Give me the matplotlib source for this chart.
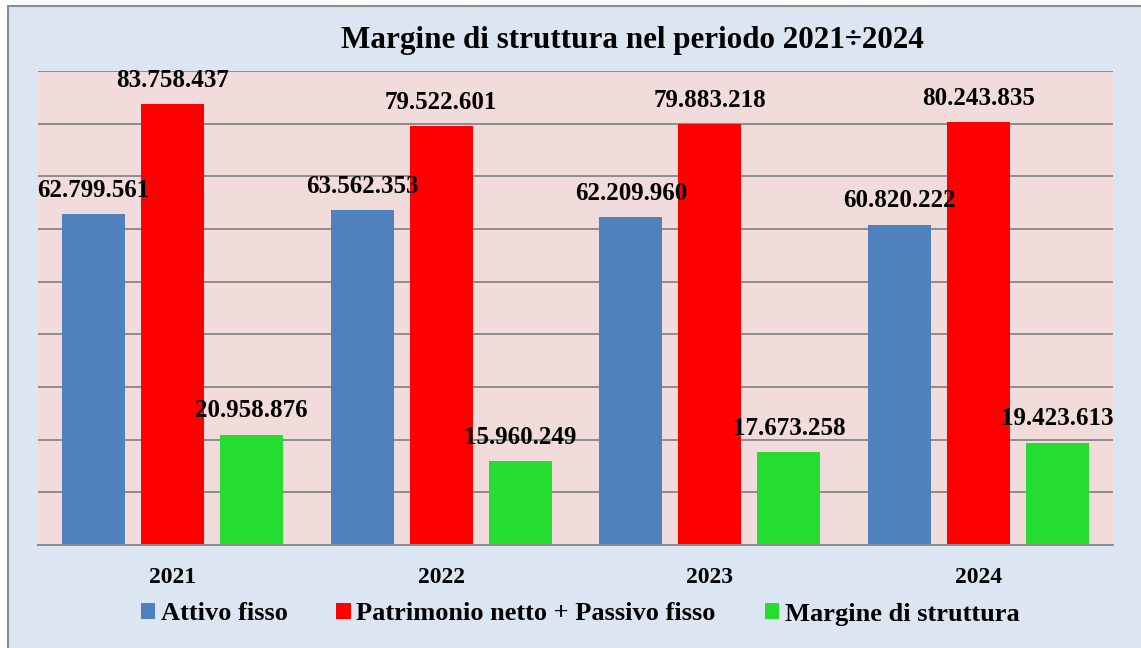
import matplotlib
matplotlib.use("Agg")
import matplotlib.pyplot as plt
import numpy as np
from matplotlib.patches import Rectangle

years = ["2021", "2022", "2023", "2024"]
attivo_fisso = [62799561, 63562353, 62209960, 60820222]
patrimonio_passivo = [83758437, 79522601, 79883218, 80243835]
margine = [20958876, 15960249, 17673258, 19423613]
series_names = ["Attivo fisso", "Patrimonio netto + Passivo fisso", "Margine di struttura"]
colors = ["#4f81bd", "#ff0000", "#25dc30"]

plt.rcParams['font.family'] = ['Liberation Serif', 'DejaVu Serif']
plt.rcParams['font.weight'] = 'bold'

W, H = 1141, 648
fig = plt.figure(figsize=(W / 100, H / 100), dpi=100, facecolor="white")

# outer chart area with border
bg = Rectangle((8 / W, -0.1), 1.2, 1.1 - 6 / H, transform=fig.transFigure,
               facecolor="#dce6f2", edgecolor="#8c8c8c", linewidth=1.5, zorder=-10)
fig.patches.append(bg)

ax = fig.add_axes([38 / W, 1 - 545 / H, (1113 - 38) / W, (545 - 71) / H])
ax.set_zorder(5)
ax.set_facecolor("#f2dcdb")

def fmt(v):
    return f"{v:,}".replace(",", ".")

x = np.arange(len(years))
spacing = 0.294
width = 0.234
all_series = [attivo_fisso, patrimonio_passivo, margine]
for i, (vals, name, c) in enumerate(zip(all_series, series_names, colors)):
    pos = x + (i - 1) * spacing
    ax.bar(pos, vals, width=width, color=c, label=name, zorder=2)
    for p, v in zip(pos, vals):
        ax.annotate(fmt(v), (p, v), xytext=(0, 12.5), textcoords="offset points",
                    ha="center", va="baseline", fontsize=18, fontweight="bold", zorder=4)

ax.set_xlim(-0.5, len(years) - 0.5)
ax.set_ylim(0, 90000000)
ax.set_yticks(np.arange(0, 90000001, 10000000))
ax.yaxis.grid(True, color="#8c8c8c", linewidth=1.4, zorder=1)
ax.set_axisbelow(True)
ax.tick_params(axis="y", left=False, labelleft=False)
ax.set_xticks(x)
ax.set_xticklabels(years, fontsize=17, fontweight="bold")
ax.tick_params(axis="x", length=0, pad=16)
for s in ["left", "right", "top"]:
    ax.spines[s].set_visible(False)
ax.spines["bottom"].set_color("#8c8c8c")
ax.spines["bottom"].set_linewidth(1.4)

fig.text(632 / W, 1 - 48 / H, "Margine di struttura nel periodo 2021÷2024",
         ha="center", va="baseline", fontsize=22.4, fontweight="bold")

handles, labels = ax.get_legend_handles_labels()
fig.legend(handles, labels, loc="center", bbox_to_anchor=(580 / W, 1 - 614 / H), ncol=3,
           frameon=False, handlelength=0.56, handleheight=0.56,
           handletextpad=0.2, columnspacing=1.85, prop={"weight": "bold", "size": 19})

fig.savefig("out.png", dpi=100, facecolor=fig.get_facecolor())
